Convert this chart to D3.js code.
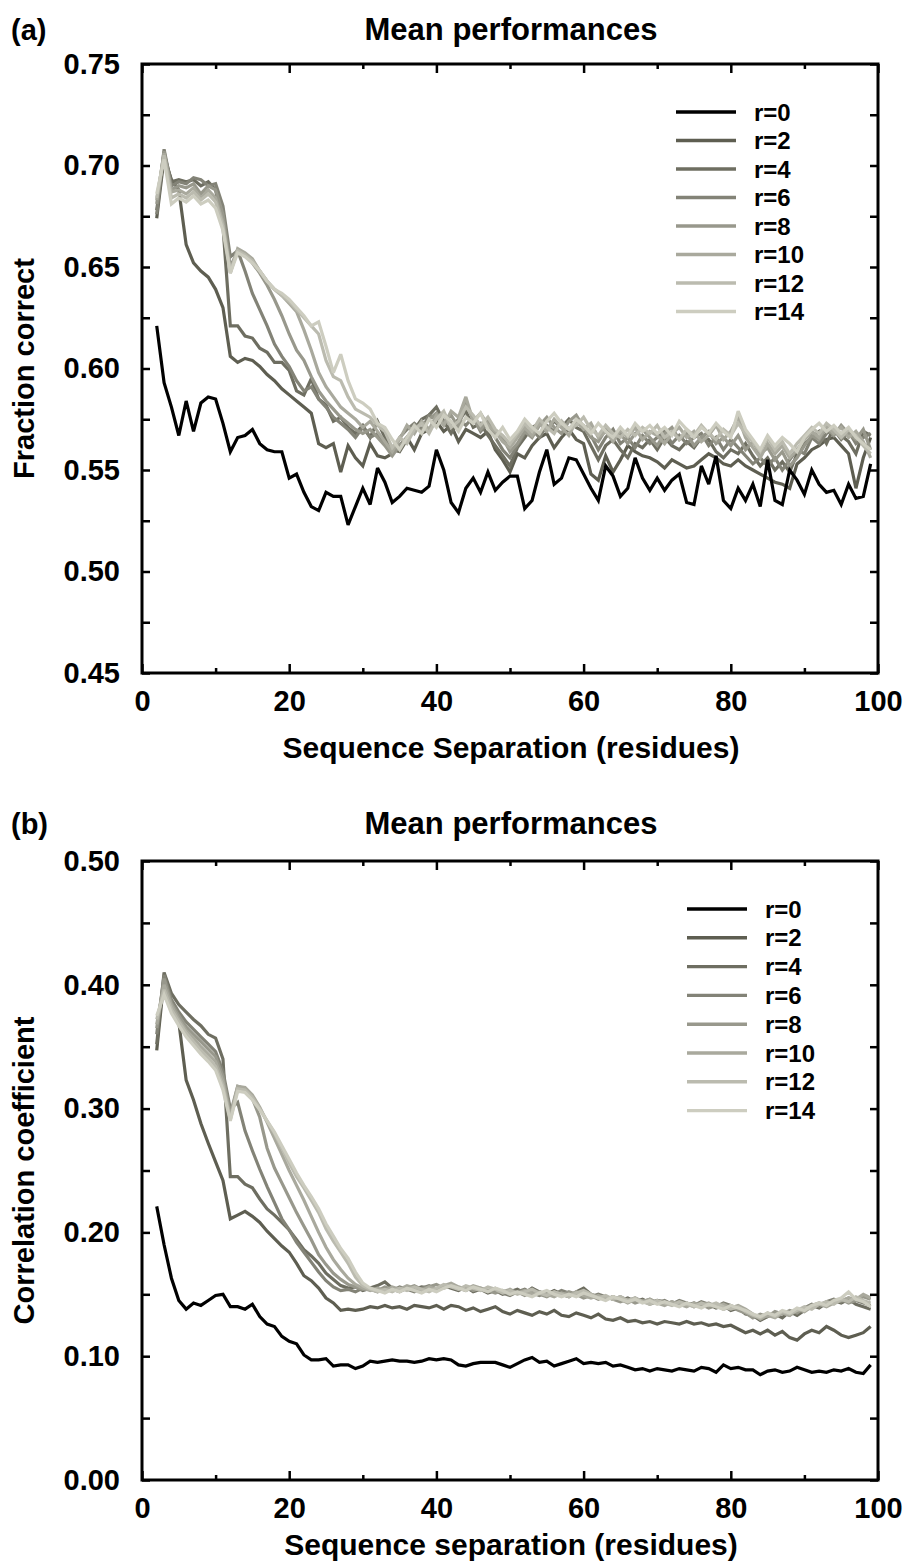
<!DOCTYPE html>
<html>
<head>
<meta charset="utf-8">
<script src="https://cdn.jsdelivr.net/npm/d3@7/dist/d3.min.js"></script>
<style>
  body { margin: 0; background: #fff; }
  text { font-family: Arial, "Liberation Sans", sans-serif; font-weight: bold; fill: #000; }
</style>
</head>
<body>
<svg id="chart" width="909" height="1564"></svg>
<script>
// sequence separation, residues 2..99
const seps = d3.range(2, 100);
const seriesLabels = ["r=0", "r=2", "r=4", "r=6", "r=8", "r=10", "r=12", "r=14"];
const seriesColors = ["#000000", "#5e5e51", "#6e6e61", "#838377", "#98988c", "#a9a99d", "#bbbbaf", "#cdcdc0"];

// panel (a): fraction correct
const fracR0 = [.621,.593,.581,.567,.584,.569,.583,.586,.585,.573,.559,.566,.567,.570,.563,.560,.559,.559,.546,.548,.539,.532,.530,.539,.537,.537,.523,.532,.541,.533,.551,.544,.534,.537,.541,.540,.539,.542,.560,.550,.534,.529,.541,.546,.539,.549,.540,.544,.547,.547,.531,.535,.549,.560,.543,.546,.556,.555,.548,.541,.535,.552,.547,.537,.541,.556,.546,.540,.546,.540,.545,.548,.534,.533,.552,.543,.557,.535,.531,.541,.535,.543,.532,.555,.535,.533,.550,.545,.538,.550,.543,.539,.540,.533,.543,.536,.537,.553];
const fracR2 = [.674,.704,.693,.688,.661,.652,.648,.645,.639,.630,.606,.603,.605,.604,.601,.597,.594,.590,.587,.584,.581,.578,.563,.561,.563,.549,.562,.556,.552,.563,.557,.556,.558,.562,.566,.560,.568,.570,.574,.569,.572,.564,.570,.568,.566,.569,.560,.555,.549,.558,.556,.562,.566,.568,.561,.566,.570,.565,.563,.548,.545,.557,.549,.555,.562,.559,.557,.556,.554,.551,.555,.553,.551,.552,.555,.558,.556,.553,.552,.555,.552,.550,.548,.546,.544,.543,.541,.553,.556,.560,.562,.565,.566,.562,.558,.541,.556,.566];
const fracR4 = [.678,.706,.692,.693,.692,.693,.690,.692,.688,.670,.621,.621,.616,.615,.610,.608,.603,.603,.599,.589,.587,.595,.585,.582,.574,.576,.571,.568,.572,.566,.574,.566,.560,.559,.565,.570,.575,.577,.581,.574,.568,.574,.579,.571,.573,.567,.562,.557,.552,.561,.566,.571,.573,.570,.574,.571,.575,.571,.569,.562,.555,.562,.565,.560,.556,.563,.561,.565,.560,.566,.562,.560,.564,.561,.566,.565,.559,.556,.560,.558,.563,.557,.552,.556,.550,.554,.549,.558,.563,.566,.569,.563,.571,.567,.564,.558,.569,.567];
const fracR6 = [.676,.708,.690,.692,.691,.694,.693,.690,.691,.680,.655,.658,.648,.637,.629,.621,.612,.606,.601,.594,.589,.591,.585,.581,.576,.573,.570,.566,.571,.566,.568,.563,.558,.566,.570,.573,.570,.577,.575,.578,.571,.575,.572,.576,.569,.573,.566,.560,.556,.562,.568,.570,.566,.572,.569,.574,.570,.573,.572,.567,.560,.566,.570,.563,.566,.561,.567,.563,.566,.569,.563,.567,.563,.566,.568,.562,.566,.560,.565,.561,.557,.553,.556,.552,.556,.550,.555,.560,.558,.566,.563,.568,.570,.565,.569,.563,.566,.568];
const fracR8 = [.681,.707,.688,.690,.689,.691,.686,.690,.688,.676,.650,.658,.656,.652,.647,.641,.634,.626,.617,.609,.604,.596,.589,.584,.580,.576,.573,.570,.568,.570,.566,.562,.557,.562,.566,.571,.569,.575,.578,.573,.577,.571,.583,.575,.570,.574,.568,.566,.559,.563,.569,.566,.572,.576,.571,.568,.574,.577,.571,.566,.564,.570,.566,.568,.563,.568,.570,.566,.562,.568,.571,.565,.568,.562,.566,.569,.563,.566,.562,.567,.560,.564,.558,.561,.555,.559,.552,.556,.562,.567,.565,.571,.567,.572,.568,.565,.570,.560];
const fracR10 = [.683,.706,.687,.688,.686,.689,.684,.688,.684,.672,.647,.659,.657,.654,.648,.643,.639,.636,.632,.628,.619,.609,.598,.591,.586,.581,.578,.575,.571,.574,.569,.564,.559,.565,.572,.568,.574,.570,.577,.572,.579,.576,.586,.574,.578,.572,.569,.564,.561,.566,.571,.567,.573,.569,.575,.571,.567,.574,.570,.573,.566,.569,.564,.570,.566,.571,.565,.569,.567,.563,.568,.571,.566,.569,.564,.567,.572,.565,.569,.576,.566,.561,.556,.563,.558,.562,.556,.560,.565,.569,.566,.572,.568,.571,.566,.569,.564,.556];
const fracR12 = [.684,.705,.684,.686,.684,.687,.683,.686,.682,.670,.648,.658,.656,.653,.648,.643,.639,.636,.633,.629,.625,.621,.617,.604,.596,.594,.586,.580,.578,.576,.572,.569,.561,.566,.563,.570,.573,.568,.575,.579,.571,.574,.581,.577,.572,.576,.570,.567,.563,.568,.573,.569,.575,.571,.568,.574,.570,.572,.576,.570,.567,.572,.568,.566,.570,.567,.571,.568,.572,.566,.569,.565,.570,.567,.572,.568,.565,.570,.567,.573,.568,.564,.559,.566,.560,.564,.558,.563,.567,.571,.568,.573,.570,.566,.570,.567,.562,.558];
const fracR14 = [.686,.703,.681,.684,.682,.685,.681,.683,.679,.668,.647,.657,.655,.652,.648,.643,.639,.637,.634,.630,.626,.621,.623,.611,.598,.607,.594,.585,.583,.580,.573,.571,.565,.560,.566,.572,.568,.575,.571,.577,.574,.569,.576,.573,.578,.570,.566,.571,.565,.569,.575,.571,.568,.574,.578,.573,.570,.575,.572,.568,.573,.569,.566,.571,.567,.573,.569,.572,.568,.571,.567,.574,.570,.566,.571,.568,.573,.569,.566,.579,.570,.565,.560,.567,.562,.566,.563,.559,.566,.570,.573,.569,.572,.568,.571,.566,.563,.560];

// panel (b): correlation coefficient
const corrR0 = [.221,.190,.163,.145,.138,.143,.141,.145,.149,.150,.140,.140,.138,.142,.132,.126,.124,.116,.112,.110,.101,.097,.097,.098,.092,.093,.093,.090,.092,.096,.095,.096,.097,.096,.096,.095,.096,.098,.097,.098,.097,.093,.092,.094,.095,.095,.095,.093,.091,.094,.097,.099,.095,.096,.092,.094,.096,.098,.094,.095,.094,.095,.092,.093,.091,.089,.090,.088,.090,.089,.088,.090,.089,.088,.091,.090,.087,.093,.090,.091,.089,.089,.085,.088,.089,.087,.088,.091,.089,.087,.088,.087,.089,.088,.090,.087,.086,.093];
const corrR2 = [.347,.405,.385,.370,.323,.307,.288,.272,.257,.242,.211,.214,.217,.213,.208,.201,.195,.189,.184,.175,.165,.161,.155,.147,.143,.137,.138,.137,.138,.140,.139,.141,.139,.140,.138,.141,.140,.139,.141,.138,.141,.140,.137,.139,.136,.138,.140,.136,.134,.137,.135,.133,.136,.134,.137,.133,.132,.135,.133,.131,.134,.130,.129,.131,.128,.129,.127,.128,.126,.128,.127,.126,.128,.126,.127,.125,.126,.124,.125,.122,.119,.121,.118,.121,.117,.120,.115,.113,.118,.121,.119,.124,.121,.117,.115,.117,.119,.124];
const corrR4 = [.352,.410,.393,.384,.378,.372,.367,.360,.357,.340,.245,.245,.239,.236,.227,.219,.214,.208,.202,.194,.186,.181,.175,.167,.162,.157,.155,.156,.153,.155,.157,.160,.155,.153,.155,.154,.156,.155,.154,.157,.155,.153,.156,.152,.154,.151,.153,.150,.152,.154,.151,.155,.152,.150,.153,.150,.148,.152,.155,.150,.148,.146,.148,.145,.147,.144,.146,.143,.145,.144,.142,.144,.141,.143,.140,.142,.139,.141,.137,.139,.134,.133,.129,.132,.134,.131,.136,.133,.137,.141,.139,.143,.145,.143,.146,.142,.140,.138];
const corrR6 = [.360,.408,.388,.378,.370,.364,.358,.352,.346,.330,.300,.305,.282,.266,.251,.237,.224,.211,.202,.192,.184,.176,.168,.161,.156,.153,.154,.152,.155,.154,.152,.155,.153,.156,.154,.152,.155,.157,.154,.156,.158,.155,.153,.156,.154,.152,.154,.151,.149,.152,.154,.151,.149,.152,.150,.153,.151,.149,.151,.148,.150,.148,.146,.148,.145,.147,.144,.146,.143,.145,.142,.145,.143,.141,.144,.142,.140,.143,.141,.138,.136,.132,.131,.134,.132,.135,.133,.137,.139,.142,.140,.144,.146,.144,.147,.145,.143,.141];
const corrR8 = [.365,.405,.385,.375,.366,.360,.354,.348,.342,.326,.296,.318,.316,.308,.293,.268,.252,.240,.228,.216,.205,.194,.182,.174,.167,.162,.158,.156,.154,.155,.153,.156,.154,.152,.155,.157,.154,.156,.158,.155,.157,.154,.156,.153,.155,.153,.151,.153,.150,.152,.149,.152,.150,.148,.151,.149,.152,.150,.147,.149,.146,.148,.146,.144,.146,.143,.145,.142,.144,.142,.144,.141,.143,.140,.142,.139,.141,.138,.140,.137,.135,.131,.134,.132,.136,.134,.137,.135,.139,.141,.143,.141,.144,.146,.143,.145,.148,.146];
const corrR10 = [.368,.400,.383,.372,.363,.357,.350,.344,.338,.322,.293,.318,.317,.311,.301,.289,.276,.263,.250,.238,.226,.213,.200,.188,.178,.170,.163,.158,.155,.153,.155,.153,.156,.154,.157,.155,.153,.156,.154,.157,.159,.156,.154,.157,.155,.153,.155,.152,.154,.151,.153,.150,.152,.150,.148,.151,.149,.152,.149,.147,.149,.146,.148,.146,.143,.146,.144,.146,.143,.141,.144,.142,.140,.143,.141,.143,.140,.142,.139,.141,.138,.134,.130,.133,.131,.135,.133,.138,.136,.140,.142,.140,.143,.145,.147,.146,.150,.147];
const corrR12 = [.372,.396,.380,.370,.361,.354,.347,.341,.334,.318,.291,.316,.315,.309,.300,.290,.280,.268,.256,.245,.236,.226,.216,.203,.193,.184,.175,.164,.157,.154,.152,.154,.152,.155,.153,.156,.154,.152,.155,.158,.156,.154,.157,.155,.153,.156,.154,.151,.153,.150,.152,.154,.151,.149,.152,.150,.148,.151,.153,.150,.147,.149,.146,.148,.145,.147,.144,.142,.145,.143,.141,.144,.142,.140,.143,.141,.143,.140,.138,.140,.136,.133,.131,.135,.132,.136,.134,.137,.140,.138,.142,.144,.142,.146,.144,.148,.145,.143];
const corrR14 = [.375,.392,.377,.367,.358,.351,.344,.338,.331,.315,.290,.314,.313,.307,.299,.290,.281,.270,.259,.248,.238,.229,.219,.207,.197,.187,.179,.168,.159,.155,.153,.151,.154,.152,.155,.153,.151,.154,.152,.155,.157,.155,.153,.156,.154,.152,.155,.153,.150,.152,.150,.148,.151,.153,.150,.148,.150,.148,.151,.149,.147,.145,.148,.146,.144,.146,.143,.145,.142,.144,.142,.140,.143,.141,.139,.142,.140,.138,.141,.139,.137,.134,.132,.135,.133,.137,.135,.139,.137,.141,.143,.141,.145,.147,.152,.146,.144,.140];

const fracSeries = [fracR0, fracR2, fracR4, fracR6, fracR8, fracR10, fracR12, fracR14];
const corrSeries = [corrR0, corrR2, corrR4, corrR6, corrR8, corrR10, corrR12, corrR14];

const xMajor = [0, 20, 40, 60, 80, 100];
const xMinor = [10, 30, 50, 70, 90];
const fracTicks = [0.45, 0.50, 0.55, 0.60, 0.65, 0.70, 0.75];
const fracMinor = [0.475, 0.525, 0.575, 0.625, 0.675, 0.725];
const corrTicks = [0.00, 0.10, 0.20, 0.30, 0.40, 0.50];
const corrMinor = [0.05, 0.15, 0.25, 0.35, 0.45];

const svg = d3.select("#chart");
const left = 142, right = 878;

function drawPanel(p) {
  const x = d3.scaleLinear().domain([0, 100]).range([left, right]);
  const y = d3.scaleLinear().domain(p.domain).range([p.bottom, p.top]);
  const g = svg.append("g");

  // lines: grays first, black on top
  const line = d3.line().x((d, i) => x(seps[i])).y(d => y(d));
  const order = [1, 2, 3, 4, 5, 6, 7, 0];
  order.forEach(k => {
    g.append("path").datum(p.series[k])
      .attr("d", line).attr("fill", "none")
      .attr("stroke", seriesColors[k]).attr("stroke-width", 3.2)
      .attr("stroke-linejoin", "miter").attr("stroke-miterlimit", 3);
  });

  // axes, ticks pointing inward
  const bottom = g.append("g").attr("transform", `translate(0,${p.bottom})`)
    .call(d3.axisBottom(x).tickValues(xMajor).tickSize(-9).tickPadding(8).tickFormat(d3.format("d")));
  g.append("g").attr("transform", `translate(0,${p.bottom})`)
    .call(d3.axisBottom(x).tickValues(xMinor).tickSize(-5).tickFormat(""));
  g.append("g").attr("transform", `translate(0,${p.top})`)
    .call(d3.axisTop(x).tickValues(xMajor.concat(xMinor)).tickSize(-7).tickFormat(""))
    .selectAll(".tick line").attr("y2", (d) => xMinor.includes(d) ? 5 : 9);
  g.append("g").attr("transform", `translate(${left},0)`)
    .call(d3.axisLeft(y).tickValues(p.ticks).tickSize(-8).tickPadding(22).tickFormat(d3.format(".2f")));
  g.append("g").attr("transform", `translate(${left},0)`)
    .call(d3.axisLeft(y).tickValues(p.minor).tickSize(-8).tickFormat(""));
  g.append("g").attr("transform", `translate(${right},0)`)
    .call(d3.axisRight(y).tickValues(p.ticks.concat(p.minor)).tickSize(-8).tickFormat(""));

  g.selectAll(".domain").remove();
  g.selectAll(".tick line").attr("stroke", "#000").attr("stroke-width", 2.5);
  g.selectAll(".tick text").attr("font-size", 29).attr("font-family", null).attr("fill", "#000");
  bottom.selectAll(".tick text").attr("dy", null).attr("y", 38);

  g.append("rect").attr("x", left).attr("y", p.top)
    .attr("width", right - left).attr("height", p.bottom - p.top)
    .attr("fill", "none").attr("stroke", "#000").attr("stroke-width", 3);

  // titles
  g.append("text").attr("x", 11).attr("y", p.titleY).attr("font-size", 29).text(p.tag);
  g.append("text").attr("x", 511).attr("y", p.titleY).attr("text-anchor", "middle")
    .attr("font-size", 31).text("Mean performances");
  g.append("text").attr("x", 511).attr("y", p.xTitleY).attr("text-anchor", "middle")
    .attr("font-size", 30).text(p.xTitle);
  g.append("text").attr("transform", `translate(34,${(p.top + p.bottom) / 2}) rotate(-90)`)
    .attr("text-anchor", "middle").attr("font-size", 29).text(p.yTitle);

  // legend
  const lg = g.append("g").attr("transform", `translate(${p.legend[0]},${p.legend[1]})`);
  seriesLabels.forEach((lab, i) => {
    const row = lg.append("g").attr("transform", `translate(0,${i * p.legendStep})`);
    row.append("line").attr("x1", 0).attr("x2", 60).attr("y1", 0).attr("y2", 0)
      .attr("stroke", seriesColors[i]).attr("stroke-width", 3.4);
    row.append("text").attr("x", 78).attr("y", 8.5).attr("font-size", 24).text(lab);
  });
}

drawPanel({
  top: 64, bottom: 673, domain: [0.45, 0.75], ticks: fracTicks, minor: fracMinor,
  series: fracSeries, tag: "(a)", xTitle: "Sequence Separation (residues)", yTitle: "Fraction correct",
  legend: [676, 112], legendStep: 28.5, titleY: 40, xTitleY: 758
});
drawPanel({
  top: 861, bottom: 1480, domain: [0, 0.5], ticks: corrTicks, minor: corrMinor,
  series: corrSeries, tag: "(b)", xTitle: "Sequence separation (residues)", yTitle: "Correlation coefficient",
  legend: [687, 909], legendStep: 28.8, titleY: 834, xTitleY: 1555
});
</script>
</body>
</html>
